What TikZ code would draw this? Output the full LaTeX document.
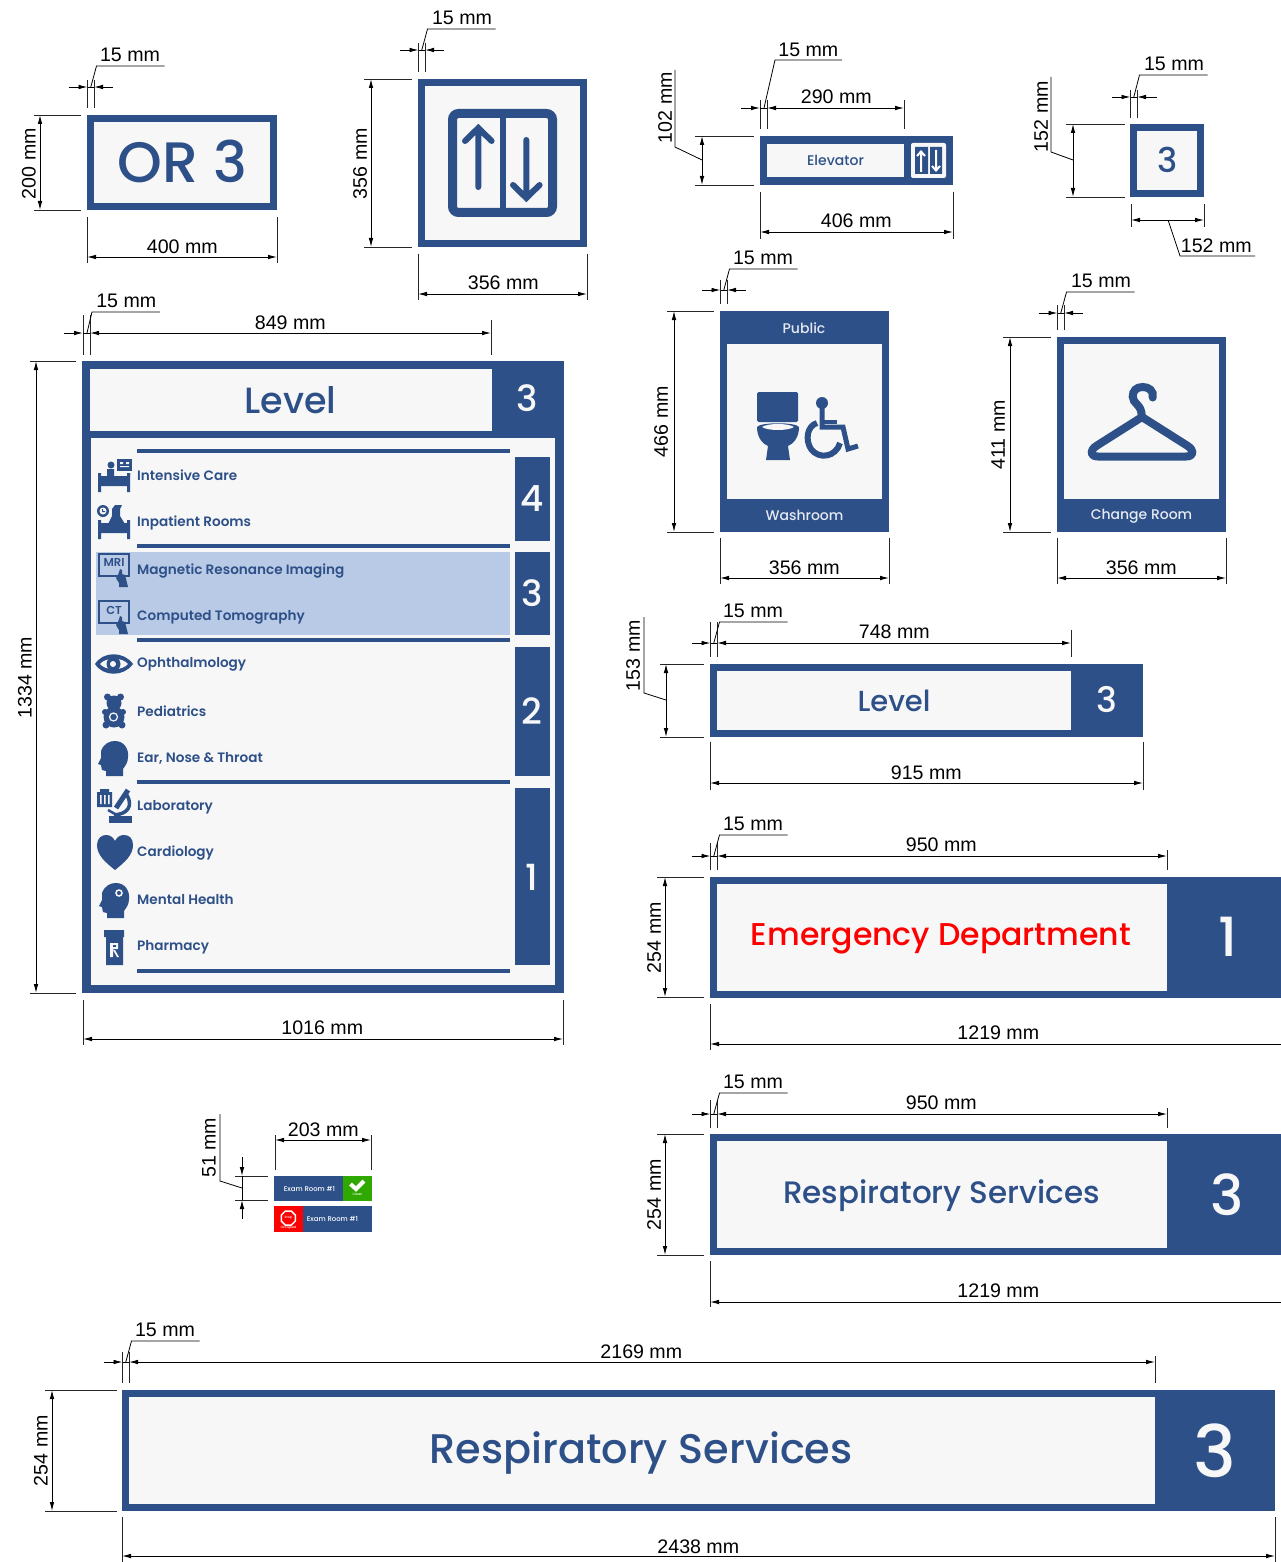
\documentclass[tikz,border=0pt]{standalone}
\usepackage{fontspec}
\usetikzlibrary{arrows.meta}
\setmainfont{Liberation Sans}
\newfontfamily\sg{Poppins Medium}
\newfontfamily\sgb{Poppins SemiBold}
\definecolor{signblue}{HTML}{2E5088}
\definecolor{signwhite}{HTML}{F7F7F7}
\definecolor{hilite}{HTML}{B9CAE6}
\definecolor{okgreen}{HTML}{2FA800}
\definecolor{lighttext}{HTML}{E4E9F2}
\tikzset{
 extline/.style={draw=black!85,line width=0.8pt},
 dimline/.style={draw=black,line width=0.9pt,{Latex[length=9pt,width=4.6pt]}-{Latex[length=9pt,width=4.6pt]}},
 dimout/.style={draw=black,line width=0.9pt,-{Latex[length=9pt,width=4.6pt]}},
 dimplain/.style={draw=black,line width=0.9pt},
 leader/.style={draw=black,line width=0.8pt},
 dimlabel/.style={font=\fontsize{19.6}{20}\selectfont,inner sep=0pt,text=black,yshift=-0.7pt},
 signtext/.style={inner sep=0pt,text=signblue},
 listtext/.style={inner sep=0pt,text=signblue,anchor=base west,font=\sgb\fontsize{13.6}{14}\selectfont},
 numtext/.style={inner sep=0pt,text=signwhite},
}
\newcommand{\EV}[3]{\draw[extline] (#1,#2) -- (#1,#3);}
\newcommand{\EH}[3]{\draw[extline] (#2,#1) -- (#3,#1);}
\newcommand{\LH}[4]{\node[dimlabel,xshift=0.3pt] (#1) at (#2,#3) {#4};}
\newcommand{\LV}[4]{\node[dimlabel,rotate=90] (#1) at (#2,#3) {#4};}
\newcommand{\Panel}[4]{\fill[signblue] (#1,#2) rectangle (#3,#4);}
\newcommand{\Inner}[4]{\fill[signwhite] (#1,#2) rectangle (#3,#4);}
% 15 mm: name, x, yline, ytop, ybottom, label x-centre, leader y
\newcommand{\Fifteen}[7]{%
 \EV{#2}{#4}{#5}\EV{#2+6.6}{#4}{#5}%
 \draw[dimout] (#2-19,#3) -- (#2,#3);%
 \draw[dimplain] (#2,#3) -- (#2+6.6,#3);%
 \draw[leader] (#2+3.3,#3) -- (#2+9,#7) -- (#2+77,#7);%
 \node[dimlabel] (#1) at (#6,#7-12) {15 mm};}
\newcommand{\BedIcon}[2]{\begin{scope}[shift={(#1,#2)}]
 \fill[signblue] (0,0) rectangle (3,19) (29,0) rectangle (32,19) (0,3) rectangle (32,13) ;
 \end{scope}}
\newcommand{\HandIcon}[2]{\begin{scope}[shift={(#1,#2)}]
 \fill[signblue] (-8,0) -- (-6,-6) -- (-4,-5) -- (-4,-1) -- (-1,0) -- (1,8) -- (2,12) -- (-7,12) -- (-7,8) -- (-10,3) -- cycle;
 \end{scope}}
\newcommand{\HeadIcon}[2]{\begin{scope}[shift={(#1,#2)}]
 \fill[signblue] (8,35) -- (8,30) -- (4,29) -- (3,24) -- (0,23) -- (3,17) -- (3,10)
  .. controls (6,2) and (12,0) .. (17,0) .. controls (26,0) and (31,8) .. (30,16)
  .. controls (30,22) and (27,25) .. (25,28) -- (25,35) -- cycle;
 \end{scope}}
\begin{document}
\begin{tikzpicture}[x=1pt,y=-1pt,line cap=butt]
\useasboundingbox (0,0) rectangle (1281,1562);
\fill[white] (0,0) rectangle (1281,1562);

%% ---------- OR 3
\Panel{87}{115}{277}{210}\Inner{94}{122}{270}{203}
\node[signtext,anchor=base,font=\sg\fontsize{57}{58}\selectfont] (or) at (182.5,183) {OR 3};
\EV{87}{217}{263}\EV{277}{217}{263}
\draw[dimline] (87,257) -- (277,257);\LH{a1}{182}{246}{400 mm}
\EH{115}{34}{81}\EH{210}{34}{81}
\draw[dimline] (40,115) -- (40,210);\LV{a2}{29}{163}{200 mm}
\Fifteen{a3}{87.5}{87}{80}{108}{130}{66}
\draw[dimout] (113,87) -- (94,87);

%% ---------- elevator square
\Panel{418}{79}{587}{247}\Inner{425}{86}{580}{240}
\draw[signblue,line width=9pt,rounded corners=6pt,fill=signwhite] (452.5,113.5) rectangle (552.5,212.5);
\fill[signblue] (500,113) rectangle (505.7,213);
\draw[signblue,line width=6pt,line cap=round,line join=miter] (478.3,187) -- (478.3,129) (465,141) -- (478.3,128) -- (491.6,141);
\draw[signblue,line width=6pt,line cap=round,line join=miter] (526.3,140) -- (526.3,197) (513,185) -- (526.3,198) -- (539.6,185);
\EV{418}{254}{300}\EV{587}{254}{300}
\draw[dimline] (418,294) -- (587,294);\LH{b1}{503}{282}{356 mm}
\EH{79}{364}{412}\EH{247}{364}{412}
\draw[dimline] (371,79) -- (371,247);\LV{b2}{360}{163}{356 mm}
\Fifteen{b3}{418.5}{50}{43}{72}{462}{29}
\draw[dimout] (444,50) -- (425,50);

%% ---------- elevator strip
\Panel{760}{136}{953}{185}\Inner{767}{144}{904}{177}
\node[signtext,anchor=base,font=\sg\fontsize{14}{15}\selectfont] (elv) at (835.5,166) {Elevator};
\fill[signwhite,rounded corners=2pt] (911,143) rectangle (946,178);
\fill[signblue] (915,147) rectangle (928,174) (930,147) rectangle (942,174);
\draw[white,line width=2pt] (921,172) -- (921,153) (917,156) -- (921,151.5) -- (925,156);
\draw[white,line width=2pt] (936,150) -- (936,169) (932,166) -- (936,170.5) -- (940,166);
\EV{760}{192}{239}\EV{953}{192}{239}
\draw[dimline] (760,232) -- (953,232);\LH{c1}{856}{220}{406 mm}
\EV{904}{100}{129}
\draw[dimline] (767,108) -- (904,108);\LH{c2}{836}{96}{290 mm}
\EV{760}{100}{129}\EV{767}{100}{129}
\draw[dimout] (741,108) -- (760,108);
\draw[dimplain] (760,108) -- (767,108);
\draw[leader] (764,108) -- (775,60) -- (842,60);
\LH{c3}{808}{49}{15 mm}
\EH{136}{695}{754}\EH{185}{695}{754}
\draw[dimline] (702,136) -- (702,185);
\draw[leader] (702,160) -- (675,147) -- (675,70);
\LV{c4}{665}{107}{102 mm}

%% ---------- room number square
\Panel{1130}{124}{1204}{197}\Inner{1137}{131}{1197}{190}
\node[signtext,font=\sg\fontsize{34}{36}\selectfont] (d0) at (1168,160) {3};
\Fifteen{d1}{1130.5}{97}{90}{118}{1174}{75}
\draw[dimout] (1157,97) -- (1137,97);
\EV{1131}{204}{227}\EV{1204}{204}{227}
\draw[dimline] (1131,220) -- (1204,220);
\draw[leader] (1168,220) -- (1180,256) -- (1255,256);
\LH{d2}{1216}{245}{152 mm}
\EH{124}{1066}{1125}\EH{197}{1066}{1125}
\draw[dimline] (1073,124) -- (1073,197);
\draw[leader] (1073,160) -- (1051,152) -- (1051,77);
\LV{d3}{1041}{116}{152 mm}

%% ---------- directory
\Panel{82}{361}{564}{993}
\Inner{90}{369}{492}{431}\Inner{91}{438}{555}{985}
\node[signtext,font=\sg\fontsize{36.5}{38}\selectfont] (lv) at (290.5,400) {Level};
\node[numtext,font=\sg\fontsize{36}{38}\selectfont] (lvn) at (527,398) {3};
\fill[hilite] (96,552) rectangle (510,635);
\foreach \ya/\yb in {457/541,552/635,647/776,788/965}{\fill[signblue] (515,\ya) rectangle (550,\yb);}
\foreach \yy in {451,546,640,782,971}{\fill[signblue] (137,\yy-1.8) rectangle (510,\yy+1.8);}
\foreach \nm/\yy/\tx in {n4/499/4,n3/593/3,n2/711/2,n1/877/1}{\node[numtext,font=\sg\fontsize{36}{38}\selectfont] (\nm) at (532,\yy) {\tx};}
\node[listtext] (t1) at (137,480) {Intensive Care};
\node[listtext] (t2) at (137,526) {Inpatient Rooms};
\node[listtext] (t3) at (137,574) {Magnetic Resonance Imaging};
\node[listtext] (t4) at (137,620.7) {Computed Tomography};
\node[listtext] (t5) at (137,667.7) {Ophthalmology};
\node[listtext] (t6) at (137,716.7) {Pediatrics};
\node[listtext] (t7) at (137,762.7) {Ear, Nose \& Throat};
\node[listtext] (t8) at (137,810) {Laboratory};
\node[listtext] (t9) at (137,856.7) {Cardiology};
\node[listtext] (t10) at (137,904.7) {Mental Health};
\node[listtext] (t11) at (137,950.7) {Pharmacy};
% beds
\BedIcon{98}{473}
\fill[signblue] (111,465) circle[radius=3.5] (107,469) rectangle (114,476);
\fill[signblue] (117,459) rectangle (132,471);
\fill[signwhite] (120,462) rectangle (123,464) (126,462) rectangle (129,464) (120,466) rectangle (129,467);
\fill[signblue] (98,473) rectangle (100,476) (128,473) rectangle (130,476);
\BedIcon{98}{520}
\fill[signblue] (103,511) circle[radius=6];
\fill[signwhite] (103,511) circle[radius=3.5];
\fill[signblue] (102,509) rectangle (103,512) (103,511) rectangle (105,512);
\fill[signblue] (115,505) -- (122,505) -- (120,509) -- (120,516) -- (125,524) -- (108,524) -- (112,516) -- (112,509) -- cycle;
% MRI / CT
\draw[signblue,line width=2pt] (99,553.5) rectangle (129,576);
\node[inner sep=0pt,text=signblue,font=\sgb\fontsize{11.5}{12}\selectfont] (mri) at (114,562.5) {MRI};
\HandIcon{126}{575}
\draw[signblue,line width=2pt] (99,601) rectangle (129,623);
\node[inner sep=0pt,text=signblue,font=\sgb\fontsize{11.5}{12}\selectfont] (ct) at (114,610) {CT};
\HandIcon{126}{622}
% eye
\fill[signblue] (95,664) .. controls (103,651) and (124,651) .. (133,664) .. controls (124,677) and (103,677) .. (95,664) -- cycle;
\fill[signwhite] (100,664) .. controls (106,657) and (122,657) .. (128,664) .. controls (122,671) and (106,671) .. (100,664) -- cycle;
\fill[signblue] (113.5,664) circle[radius=7];
\fill[signwhite] (113,664) circle[radius=3];
% teddy
\fill[signblue] (107.5,697) circle[radius=3.5] (120.5,697) circle[radius=3.5] (114,703) circle[radius=7.5] (114,717) circle[radius=10.5];
\fill[signblue] (106,725) circle[radius=3.5] (122,725) circle[radius=3.5] (105,712) circle[radius=3] (123,712) circle[radius=3];
\draw[signwhite,line width=1.2pt] (113.5,717) circle[radius=4];
% ENT head
\HeadIcon{98}{741}
% lab
\fill[signblue] (97,792) rectangle (112,807) (100,789) rectangle (109,792);
\fill[signwhite] (100,795) rectangle (101.5,804) (104,795) rectangle (105.5,804) (108,795) rectangle (109.5,804);
\fill[signblue] (109,816) rectangle (132,823);
\draw[signblue,line width=3.5pt] (127,795) .. controls (133,806) and (128,814) .. (114,815);
\draw[signblue,line width=5pt] (128,790) -- (116,808);
\draw[signblue,line width=2.5pt] (108,810) -- (122,818);
% heart
\fill[signblue] (115,870) .. controls (105,862) and (97,855) .. (97,845) .. controls (97,838) and (102,835) .. (106,835) .. controls (110,835) and (113,837) .. (115,841) .. controls (117,837) and (120,835) .. (124,835) .. controls (129,835) and (133,838) .. (133,845) .. controls (133,855) and (125,862) .. (115,870) -- cycle;
% mental head
\HeadIcon{99}{883}
\draw[signwhite,line width=1.5pt] (119,893) circle[radius=3];
% pharmacy
\fill[signblue] (104,930) rectangle (124,937) (106,937) rectangle (123,965);
\fill[signwhite] (110,943) rectangle (113,957) (113,943) -- (118,943) -- (118,949) -- (113,949) -- cycle;
\fill[signblue] (113,945) rectangle (116,947);
\fill[signwhite] (113,950) -- (115,950) -- (119,957) -- (117,957) -- cycle;
% dims
\EV{83}{315}{355}\EV{90}{315}{355}\EV{491}{320}{355}
\draw[dimline] (90,333) -- (491,333);\LH{e1}{290}{322}{849 mm}
\draw[dimout] (64,333) -- (83,333);
\draw[dimplain] (83,333) -- (90,333);
\draw[leader] (87,333) -- (92,312) -- (160,312);
\LH{e2}{126}{300}{15 mm}
\EH{361}{30}{76}\EH{993}{30}{76}
\draw[dimline] (36,361) -- (36,993);\LV{e3}{25}{677}{1334 mm}
\EV{83}{1000}{1045}\EV{563}{1000}{1045}
\draw[dimline] (83,1039) -- (563,1039);\LH{e4}{322}{1027}{1016 mm}

%% ---------- washroom
\Panel{720}{311}{889}{532}\Inner{727}{344}{882}{499}
\node[inner sep=0pt,text=lighttext,anchor=base,font=\sg\fontsize{14}{15}\selectfont] (f1) at (804,333) {Public};
\node[inner sep=0pt,text=lighttext,anchor=base,font=\sg\fontsize{14}{15}\selectfont] (f2) at (804.5,520) {Washroom};
\fill[signblue,rounded corners=1.5pt] (757,392) rectangle (798,422);
\fill[signblue] (757,427) .. controls (760,422) and (796,422) .. (799,427) .. controls (799,438) and (793,444) .. (788,446) -- (790,460) -- (766,460) -- (768,446) .. controls (763,444) and (757,438) .. (757,427) -- cycle;
\fill[signwhite] (762,427) .. controls (768,423) and (788,423) .. (794,427) .. controls (788,431) and (768,431) .. (762,427) -- cycle;
\fill[signblue] (822,403) circle[radius=6];
\draw[signblue,line width=5pt] (822,403) -- (822,427) -- (843,427) -- (848,449) -- (858,446);
\draw[signblue,line width=4pt] (822,422) -- (837,422);
\draw[signblue,line width=6pt] (817,423) .. controls (807,426) and (805,440) .. (811,449) .. controls (819,460) and (836,457) .. (840,443);
\EV{720}{538}{584}\EV{889}{538}{584}
\draw[dimline] (720,578) -- (889,578);\LH{f3}{804}{567}{356 mm}
\EH{311}{667}{714}\EH{532}{667}{714}
\draw[dimline] (674,311) -- (674,532);\LV{f4}{661}{421}{466 mm}
\Fifteen{f5}{720.5}{290}{280}{304}{763}{269}
\draw[dimout] (746,290) -- (727,290);

%% ---------- change room
\Panel{1057}{337}{1226}{532}\Inner{1064}{344}{1219}{499}
\node[inner sep=0pt,text=lighttext,anchor=base,font=\sg\fontsize{14}{15}\selectfont] (g1) at (1141.5,519) {Change Room};
\draw[signblue,line width=8pt,line cap=round] (1152.7,397.5) .. controls (1154,391) and (1149,387) .. (1142.7,387) .. controls (1136,387) and (1132.7,391) .. (1132.7,396.7) .. controls (1132.7,404) and (1141.7,404) .. (1141.7,416);
\draw[signblue,line width=8pt,line join=round] (1142,417) -- (1097,445.5) .. controls (1089,450.5) and (1090,456.5) .. (1098,456.5) -- (1186,456.5) .. controls (1194,456.5) and (1195,450.5) .. (1187,445.5) -- cycle;
\EV{1057}{538}{584}\EV{1226}{538}{584}
\draw[dimline] (1057,578) -- (1226,578);\LH{g3}{1141}{567}{356 mm}
\EH{337}{1003}{1051}\EH{532}{1003}{1051}
\draw[dimline] (1010,337) -- (1010,532);\LV{g4}{998}{434}{411 mm}
\Fifteen{g5}{1057.5}{313}{305}{330}{1101}{292}
\draw[dimout] (1083,313) -- (1064,313);

%% ---------- level strip
\Panel{710}{664}{1143}{737}\Inner{717}{671}{1071}{730}
\node[signtext,font=\sg\fontsize{29}{30}\selectfont] (h1) at (894,700.5) {Level};
\node[numtext,font=\sg\fontsize{35}{36}\selectfont] (h2) at (1107,700) {3};
\EV{710}{742}{790}\EV{1143}{742}{790}
\draw[dimline] (710,783) -- (1143,783);\LH{h3}{926}{772}{915 mm}
\EV{1071}{630}{657}
\draw[dimline] (717,643) -- (1071,643);\LH{h4}{894}{631}{748 mm}
\Fifteen{h5}{710.5}{643}{622}{657}{753}{622}
\EH{664}{660}{704}\EH{737}{660}{704}
\draw[dimline] (666,664) -- (666,737);
\draw[leader] (666,700) -- (644,693) -- (644,617);
\LV{h6}{633}{655}{153 mm}

%% ---------- emergency
\Panel{710}{877}{1281}{998}\Inner{717}{884}{1167}{991}
\node[inner sep=0pt,text=red,font=\sg\fontsize{31.5}{33}\selectfont] (i1) at (941,938.5) {Emergency Department};
\node[numtext,font=\sg\fontsize{54}{56}\selectfont] (i2) at (1227.5,937) {1};
\EV{710}{1004}{1050}
\draw[dimline] (710,1044) -- (1290,1044);\LH{i3}{998}{1032}{1219 mm}
\EV{1167}{850}{870}
\draw[dimline] (717,856) -- (1167,856);\LH{i4}{941}{844}{950 mm}
\Fifteen{i5}{710.5}{856}{843}{870}{753}{835}
\EH{877}{657}{704}\EH{997}{657}{704}
\draw[dimline] (665,877) -- (665,997);\LV{i6}{654}{937}{254 mm}

%% ---------- respiratory mid
\Panel{710}{1134}{1281}{1255}\Inner{717}{1141}{1167}{1248}
\node[signtext,font=\sg\fontsize{31}{33}\selectfont] (j1) at (941.5,1196) {Respiratory Services};
\node[numtext,font=\sg\fontsize{56}{58}\selectfont] (j2) at (1227,1194.5) {3};
\EV{710}{1261}{1307}
\draw[dimline] (710,1302) -- (1290,1302);\LH{j3}{998}{1290}{1219 mm}
\EV{1167}{1108}{1128}
\draw[dimline] (717,1114) -- (1167,1114);\LH{j4}{941}{1102}{950 mm}
\Fifteen{j5}{710.5}{1114}{1100}{1128}{753}{1093}
\EH{1134}{657}{704}\EH{1255}{657}{704}
\draw[dimline] (665,1134) -- (665,1255);\LV{j6}{654}{1194}{254 mm}

%% ---------- respiratory large
\Panel{122}{1390}{1275}{1511}\Inner{129}{1397}{1155}{1504}
\node[signtext,font=\sg\fontsize{41.4}{44}\selectfont] (k1) at (641,1452.5) {Respiratory Services};
\node[numtext,font=\sg\fontsize{72}{74}\selectfont] (k2) at (1215,1451) {3};
\EV{122}{1517}{1562}\EV{1275}{1517}{1562}
\draw[dimline] (122,1556) -- (1275,1556);\LH{k3}{698}{1546}{2438 mm}
\EV{1155}{1356}{1383}
\draw[dimline] (129,1362) -- (1155,1362);\LH{k4}{641}{1351}{2169 mm}
\Fifteen{k5}{122.5}{1362}{1352}{1383}{165}{1341}
\EH{1390}{45}{117}\EH{1511}{45}{117}
\draw[dimline] (52,1390) -- (52,1511);\LV{k6}{41}{1450}{254 mm}

%% ---------- door signs
\fill[signblue] (274,1176) rectangle (343,1201);
\fill[okgreen] (343,1176) rectangle (372,1201);
\node[inner sep=0pt,text=white,font=\sg\fontsize{6.9}{7}\selectfont] (l1) at (309.5,1188.5) {Exam Room \#1};
\draw[white,line width=4pt] (350.5,1184) -- (356,1189) -- (364,1181);
\node[inner sep=0pt,text=white,font=\sg\fontsize{3.2}{4}\selectfont] (l1b) at (357.5,1194) {Clean};
\fill[red] (274,1206) rectangle (303,1232);
\fill[signblue] (303,1206) rectangle (372,1232);
\node[inner sep=0pt,text=white,font=\sg\fontsize{6.9}{7}\selectfont] (l2) at (332.5,1218.5) {Exam Room \#1};
\draw[white,line width=1.5pt] (285.3,1211) -- (291.3,1211) -- (295.3,1215) -- (295.3,1221) -- (291.3,1225) -- (285.3,1225) -- (281.3,1221) -- (281.3,1215) -- cycle;
\node[inner sep=0pt,text=white,font=\sg\fontsize{3.2}{4}\selectfont] (l2a) at (288.3,1218) {Stop};
\node[inner sep=0pt,text=white,font=\sg\fontsize{3.2}{4}\selectfont] (l2b) at (288.5,1228) {Occupied};
\EV{275}{1135}{1170}\EV{371}{1135}{1170}
\draw[dimline] (275,1140) -- (371,1140);\LH{m1}{323}{1129}{203 mm}
\EH{1176}{235}{268}\EH{1200}{235}{268}
\draw[dimout] (242,1157) -- (242,1176);
\draw[dimout] (242,1219) -- (242,1200);
\draw[dimplain] (242,1176) -- (242,1200);
\draw[leader] (242,1188) -- (220,1181) -- (220,1114);
\LV{m2}{209}{1147}{51 mm}
\end{tikzpicture}
\end{document}
